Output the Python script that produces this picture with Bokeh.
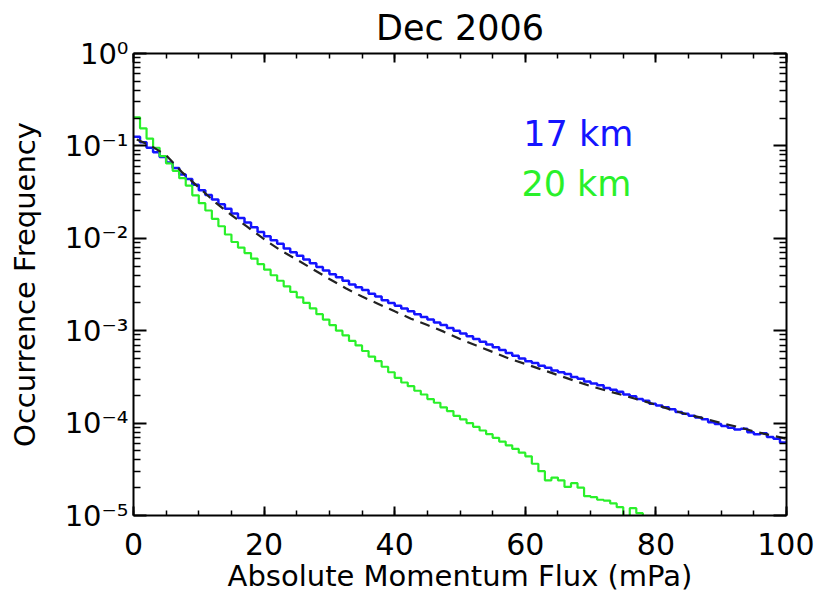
from bokeh.plotting import figure
from bokeh.models import LogAxis, LinearAxis, FixedTicker, CustomJSTickFormatter, Label, Range1d
from bokeh.embed import file_html
from bokeh.resources import INLINE

# ---------------- data ----------------
bin_width = 1.0  # mPa
freq_17km = [
    0.1259, 0.1096, 0.0955, 0.0851, 0.0759, 0.0661, 0.0575, 0.0490, 0.0437, 0.0380,
    0.0331, 0.0295, 0.0263, 0.0234, 0.0209, 0.0186, 0.0166, 0.0148, 0.0132, 0.0117,
    0.0105, 0.00955, 0.00871, 0.00776, 0.00708, 0.00646, 0.00589, 0.00537, 0.00490, 0.00447,
    0.00407, 0.00380, 0.00347, 0.00316, 0.00295, 0.00275, 0.00251, 0.00234, 0.00214, 0.00200,
    0.00186, 0.00174, 0.00162, 0.00151, 0.00141, 0.00132, 0.00123, 0.00115, 0.00107, 0.00100,
    0.000933, 0.000871, 0.000813, 0.000759, 0.000708, 0.000661, 0.000617, 0.000575, 0.000537, 0.000501,
    0.000468, 0.000447, 0.000417, 0.000398, 0.000372, 0.000355, 0.000339, 0.000316, 0.000302, 0.000282,
    0.000269, 0.000257, 0.000240, 0.000229, 0.000219, 0.000204, 0.000195, 0.000182, 0.000174, 0.000162,
    0.000155, 0.000148, 0.000141, 0.000132, 0.000126, 0.000120, 0.000115, 0.000110, 0.000102, 0.0000977,
    0.0000933, 0.0000891, 0.0000851, 0.0000871, 0.0000794, 0.0000759, 0.0000776, 0.0000708, 0.0000676, 0.0000617,
]
freq_20km = [
    0.204, 0.155, 0.120, 0.0955, 0.0776, 0.0646, 0.0537, 0.0447, 0.0372, 0.0292,
    0.0240, 0.0200, 0.0162, 0.0135, 0.0110, 0.00912, 0.00794, 0.00692, 0.00603, 0.00525,
    0.00457, 0.00398, 0.00347, 0.00302, 0.00263, 0.00229, 0.00200, 0.00174, 0.00151, 0.00132,
    0.00115, 0.00100, 0.000891, 0.000776, 0.000692, 0.000603, 0.000525, 0.000468, 0.000407, 0.000355,
    0.000309, 0.000275, 0.000251, 0.000224, 0.000204, 0.000182, 0.000166, 0.000148, 0.000135, 0.000120,
    0.000110, 0.000100, 0.0000912, 0.0000832, 0.0000759, 0.0000692, 0.0000631, 0.0000575, 0.0000525, 0.0000479,
    0.0000437, 0.0000363, 0.0000302, 0.0000240, 0.0000257, 0.0000240, 0.0000204, 0.0000224, 0.0000200, 0.0000162,
    0.0000158, 0.0000148, 0.0000145, 0.0000135, 0.0000123, 0.0000080, 0.0000120, 0.0000106, 0.0000050,
]
fit_x = [0.5, 2.5, 5, 7.5, 10, 12.5, 15, 17.5, 20, 22.5, 25, 27.5, 30, 32.5, 35, 37.5, 40,
         42.5, 45, 47.5, 50, 52.5, 55, 57.5, 60, 62.5, 65, 67.5, 70, 72.5, 75, 77.5, 80,
         82.5, 85, 87.5, 90, 92.5, 95, 97.5, 100]
fit_y = [0.117, 0.102, 0.0794, 0.0513, 0.0355, 0.0245, 0.0178, 0.0132, 0.00977, 0.00741,
         0.00589, 0.00462, 0.00363, 0.00288, 0.00234, 0.00195, 0.00162, 0.00135, 0.00115, 0.000977,
         0.000813, 0.000692, 0.000589, 0.000501, 0.000437, 0.000380, 0.000331, 0.000288, 0.000251, 0.000224,
         0.000200, 0.000178, 0.000158, 0.000138, 0.000123, 0.000112, 0.000100, 0.0000912, 0.0000813, 0.0000741,
         0.0000676]
x_tick_values = [0, 20, 40, 60, 80, 100]
x_minor_values = list(range(0, 101, 5))
y_tick_values = [1, 0.1, 0.01, 0.001, 0.0001, 0.00001]
y_tick_labels = ["10⁰", "10⁻¹", "10⁻²", "10⁻³", "10⁻⁴", "10⁻⁵"]
series_labels = ["17 km", "20 km"]
title_text = "Dec 2006"
x_label = "Absolute Momentum Flux (mPa)"
y_label = "Occurrence Frequency"

FONT = "DejaVu Sans ExtraLight, DejaVu Sans"
BLUE = "#1414ff"
GREEN = "#2af02a"

y_minor_values = [m * 10.0 ** (-e) for e in range(1, 6) for m in range(2, 10)]

p = figure(width=814, height=601, x_range=Range1d(0, 100), y_range=Range1d(1e-5, 1),
           y_axis_type="log", output_backend="svg", toolbar_location=None,
           min_border_left=133, min_border_right=28, min_border_top=53, min_border_bottom=86)
p.grid.visible = False
p.outline_line_color = None
p.background_fill_color = "white"
p.border_fill_color = "white"

# step histograms (bin edges built from bin width)
edges17 = [i * bin_width for i in range(len(freq_17km) + 1)]
edges20 = [i * bin_width for i in range(len(freq_20km) + 1)]
p.step(x=edges17, y=freq_17km + [freq_17km[-1]], mode="after", line_color=BLUE, line_width=2.5)
p.step(x=edges20, y=freq_20km + [freq_20km[-1]], mode="after", line_color=GREEN, line_width=2.2)
p.line(fit_x, fit_y, line_color="#222222", line_width=2.2, line_dash="10 7")

# axes
xt = FixedTicker(ticks=x_tick_values, minor_ticks=x_minor_values)
yt = FixedTicker(ticks=y_tick_values, minor_ticks=y_minor_values)

def style(ax, major_in, minor_in):
    ax.major_tick_in = major_in
    ax.major_tick_out = 0
    ax.minor_tick_in = minor_in
    ax.minor_tick_out = 0
    ax.axis_line_width = 2
    ax.axis_line_color = "black"
    ax.major_tick_line_width = 2
    ax.minor_tick_line_width = 1.5
    ax.major_label_text_font = FONT
    ax.major_label_text_color = "black"
    ax.axis_label_text_font = FONT
    ax.axis_label_text_font_style = "normal"
    ax.axis_label_text_color = "black"

xa = p.xaxis[0]
xa.ticker = xt
style(xa, 9, 5)
xa.major_label_text_font_size = "30px"
xa.major_label_standoff = 17
xa.axis_label = x_label
xa.axis_label_text_font_size = "29px"
xa.axis_label_standoff = 1

ya = p.yaxis[0]
ya.ticker = yt
style(ya, 13, 7)
ya.formatter = CustomJSTickFormatter(args=dict(labels=y_tick_labels),
                                     code="return labels[Math.round(-Math.log10(tick))];")
ya.major_label_text_font_size = "29px"
ya.major_label_standoff = 5
ya.axis_label = y_label
ya.axis_label_text_font_size = "29px"
ya.axis_label_standoff = 20

blank = CustomJSTickFormatter(code="return '';")
top = LinearAxis(ticker=xt, formatter=blank)
style(top, 9, 5)
top.major_label_text_font_size = "0px"
top.major_label_standoff = 0
p.add_layout(top, "above")

right = LogAxis(ticker=yt, formatter=blank)
style(right, 13, 7)
right.major_label_text_font_size = "0px"
right.major_label_standoff = 0
p.add_layout(right, "right")

p.title.text = title_text
p.title.align = "center"
p.title.text_font = FONT
p.title.text_font_size = "35px"
p.title.text_font_style = "normal"
p.title.text_color = "black"
p.title.standoff = 8
p.title.vertical_align = "top"

p.add_layout(Label(x=59.7, y=0.136, text=series_labels[0], text_color=BLUE,
                   text_font=FONT, text_font_size="35px", text_baseline="middle"))
p.add_layout(Label(x=59.4, y=0.039, text=series_labels[1], text_color=GREEN,
                   text_font=FONT, text_font_size="35px", text_baseline="middle"))

open("out.html", "w").write(file_html(p, INLINE))
